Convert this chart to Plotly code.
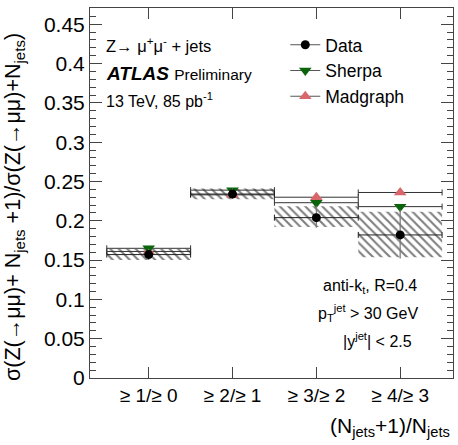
import plotly.graph_objects as go

categories = ["≥ 1/≥ 0", "≥ 2/≥ 1", "≥ 3/≥ 2", "≥ 4/≥ 3"]
xpos = [1, 2, 3, 4]
data_vals = [0.157, 0.234, 0.204, 0.182]
data_err_up = [0.007, 0.007, 0.015, 0.032]
data_err_down = [0.007, 0.006, 0.013, 0.030]
band_low = [0.150, 0.2275, 0.192, 0.1535]
band_high = [0.164, 0.241, 0.2185, 0.2115]
sherpa_vals = [0.165, 0.239, 0.223, 0.218]
madgraph_vals = [0.161, 0.233, 0.230, 0.236]
half_width = [0.5, 0.5, 0.5, 0.5]

FONT = "Liberation Sans, Arial, sans-serif"
AX = "#444444"
GREEN = "#0a640a"
PINK = "#d9666a"

fig = go.Figure()

fig.add_trace(go.Bar(
    x=xpos, y=[h - l for h, l in zip(band_high, band_low)], base=band_low,
    width=1.0, showlegend=False, hoverinfo="skip",
    marker=dict(color="rgba(0,0,0,0)", line=dict(width=0),
                pattern=dict(shape="\\", fgcolor="black", bgcolor="rgba(0,0,0,0)",
                             size=6, solidity=0.35, fillmode="overlay")),
))

fig.add_trace(go.Scatter(
    x=xpos, y=madgraph_vals, mode="markers", showlegend=False,
    marker=dict(symbol="triangle-up", size=11, color=PINK),
    error_x=dict(type="data", array=half_width, color="#333333", thickness=1, width=3),
))
fig.add_trace(go.Scatter(
    x=xpos, y=sherpa_vals, mode="markers", showlegend=False,
    marker=dict(symbol="triangle-down", size=11, color=GREEN),
    error_x=dict(type="data", array=half_width, color="#333333", thickness=1, width=3),
))
fig.add_trace(go.Scatter(
    x=xpos, y=data_vals, mode="markers", showlegend=False,
    marker=dict(symbol="circle", size=9, color="black"),
    error_x=dict(type="data", array=half_width, color="#222222", thickness=1, width=3),
    error_y=dict(type="data", symmetric=False, array=data_err_up, arrayminus=data_err_down,
                 color="#777777", thickness=1.2, width=0),
))

# legend entries
for name, sym, col, sz in [("Data", "circle", "black", 9),
                           ("Sherpa", "triangle-down", GREEN, 11),
                           ("Madgraph", "triangle-up", PINK, 11)]:
    fig.add_trace(go.Scatter(x=[None], y=[None], mode="lines+markers", name=name,
                             line=dict(color="#555555", width=1),
                             marker=dict(symbol=sym, size=sz, color=col)))

fig.update_layout(
    width=458, height=445,
    margin=dict(l=90, r=5, t=8, b=67),
    paper_bgcolor="white", plot_bgcolor="white",
    font=dict(family=FONT, size=17, color="black"),
    barmode="overlay",
    legend=dict(x=0.538, y=0.949, xanchor="left", yanchor="top",
                bgcolor="rgba(0,0,0,0)", font=dict(size=17.5), tracegroupgap=0,
                itemwidth=30),
    xaxis=dict(range=[0.3, 4.63], tickvals=xpos, ticktext=categories,
               showgrid=False, zeroline=False, showline=True, linecolor=AX, linewidth=1,
               mirror="allticks", ticks="inside", ticklen=11, tickcolor=AX,
               tickfont=dict(size=19)),
    yaxis=dict(range=[0, 0.4707], dtick=0.05, tick0=0, tickformat=".2~f",
               showgrid=False, zeroline=False, showline=True, linecolor=AX, linewidth=1,
               mirror="allticks", ticks="inside", ticklen=12, tickcolor=AX,
               tickfont=dict(size=21),
               minor=dict(ticks="inside", ticklen=6, dtick=0.01, tickcolor=AX, showgrid=False)),
)


def px(x):
    return (x - 90) / (453 - 90)


def py(y):
    return (378 - y) / (378 - 8)


ann = [
    dict(x=104, y=45, text="Z→ μ<sup>+</sup>μ<sup>-</sup> + jets", size=16.5),
    dict(x=104, y=73, text="<b><i>ATLAS</i></b> <span style='font-size:15.5px'>Preliminary</span>", size=19),
    dict(x=104, y=100, text="13 TeV, 85 pb<sup>-1</sup>", size=16),
]
for a in ann:
    fig.add_annotation(x=px(a["x"]), y=py(a["y"]), xref="paper", yref="paper",
                       text=a["text"], showarrow=False, xanchor="left", yanchor="middle",
                       font=dict(size=a["size"], family=FONT))

for t, xr, yc in [("anti-k<sub>t</sub>, R=0.4", 419, 286),
                  ("p<sub>T</sub><sup>jet</sup> > 30 GeV", 420, 313),
                  ("|y<sup>jet</sup>| < 2.5", 414, 340)]:
    fig.add_annotation(x=px(xr), y=py(yc), xref="paper", yref="paper", text=t,
                       showarrow=False, xanchor="right", yanchor="middle",
                       font=dict(size=16, family=FONT))

fig.add_annotation(x=px(452), y=py(427), xref="paper", yref="paper",
                   text="(N<sub>jets</sub>+1)/N<sub>jets</sub>", showarrow=False,
                   xanchor="right", yanchor="middle", font=dict(size=21, family=FONT))

fig.add_annotation(x=px(14), y=py(207), xref="paper", yref="paper",
                   text="σ(Z(→μμ)+ N<sub>jets</sub> +1)/σ(Z(→μμ)+N<sub>jets</sub>)",
                   textangle=-90, showarrow=False, xanchor="center", yanchor="middle",
                   font=dict(size=21.5, family=FONT))

fig.write_html("out.html", config={"displayModeBar": False},
               post_script="document.body.style.margin='0';document.body.style.padding='0';")
